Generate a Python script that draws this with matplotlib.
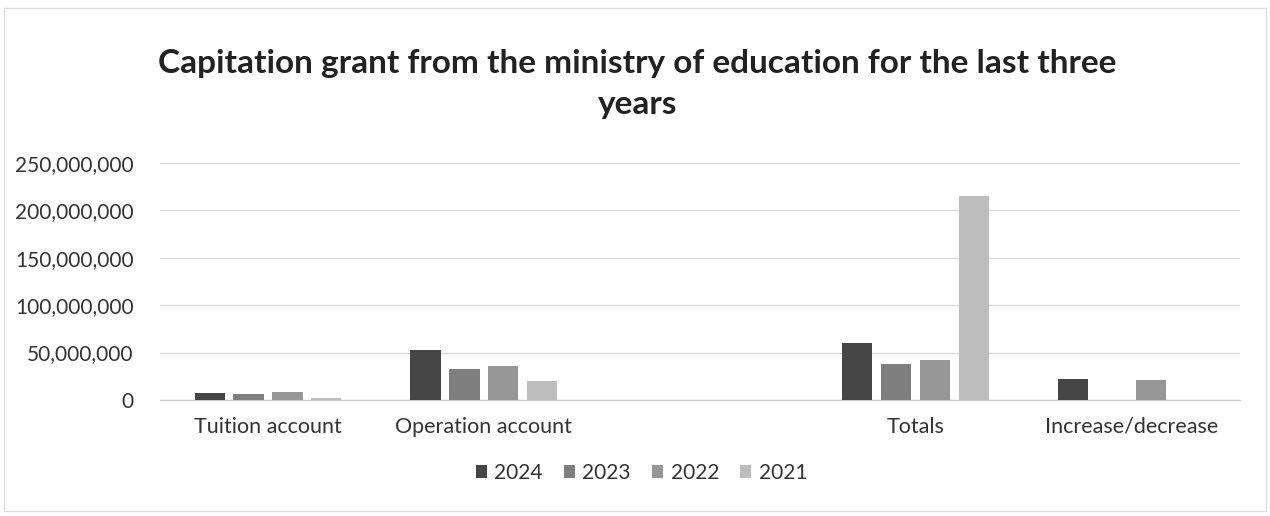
import matplotlib.pyplot as plt
import numpy as np
from matplotlib.ticker import FuncFormatter

plt.rcParams['font.family'] = ['Lato', 'DejaVu Sans']

categories = ['Tuition account', 'Operation account', '', 'Totals', 'Increase/decrease']
years = ['2024', '2023', '2022', '2021']
v_2024 = [7_500_000, 53_000_000, 0, 60_000_000, 22_000_000]
v_2023 = [6_000_000, 33_000_000, 0, 38_000_000, 0]
v_2022 = [8_000_000, 36_000_000, 0, 42_000_000, 21_000_000]
v_2021 = [2_500_000, 20_000_000, 0, 215_000_000, 0]
colors = ['#454545', '#7f7f7f', '#969696', '#bdbdbd']

fig = plt.figure(figsize=(12.7, 5.16), dpi=100)
ax = fig.add_axes([0.126, 0.225, 0.85, 0.459])

x = np.arange(len(categories))
step = 0.18
width = 0.14
for i, (vals, year) in enumerate(zip([v_2024, v_2023, v_2022, v_2021], years)):
    ax.bar(x + (i - 1.5) * step, vals, width, color=colors[i], label=year, zorder=3)

ax.set_xlim(-0.5, len(categories) - 0.5)
ax.set_ylim(0, 250_000_000)
ax.set_yticks(np.arange(0, 250_000_001, 50_000_000))
ax.yaxis.set_major_formatter(FuncFormatter(lambda v, p: f'{int(v):,}'))
ax.set_xticks(x)
ax.set_xticklabels(categories)
ax.tick_params(length=0, labelsize=15.5, colors='#333333', pad=12)
ax.tick_params(axis='y', labelsize=15, pad=19)
ax.grid(axis='y', color='#d9d9d9', linewidth=1, zorder=0)
for s in ['top', 'right', 'left']:
    ax.spines[s].set_visible(False)
ax.spines['bottom'].set_color('#cccccc')

fig.text(0.502, 1 - 84 / 516, 'Capitation grant from the ministry of education for the last three\nyears',
         ha='center', va='center', fontsize=24, fontweight='bold', color='#222222', linespacing=1.5)

fig.legend(loc='center', bbox_to_anchor=(0.505, 1 - 473 / 516), ncol=4, frameon=False,
           fontsize=15, handlelength=0.55, handleheight=0.55, columnspacing=1.0, handletextpad=0.35,
           labelcolor='#333333')

fig.add_artist(plt.Rectangle((0.003, 0.01), 0.994, 0.975, transform=fig.transFigure,
                             fill=False, edgecolor='#dddddd', linewidth=1))

fig.savefig('out.png', dpi=100)
